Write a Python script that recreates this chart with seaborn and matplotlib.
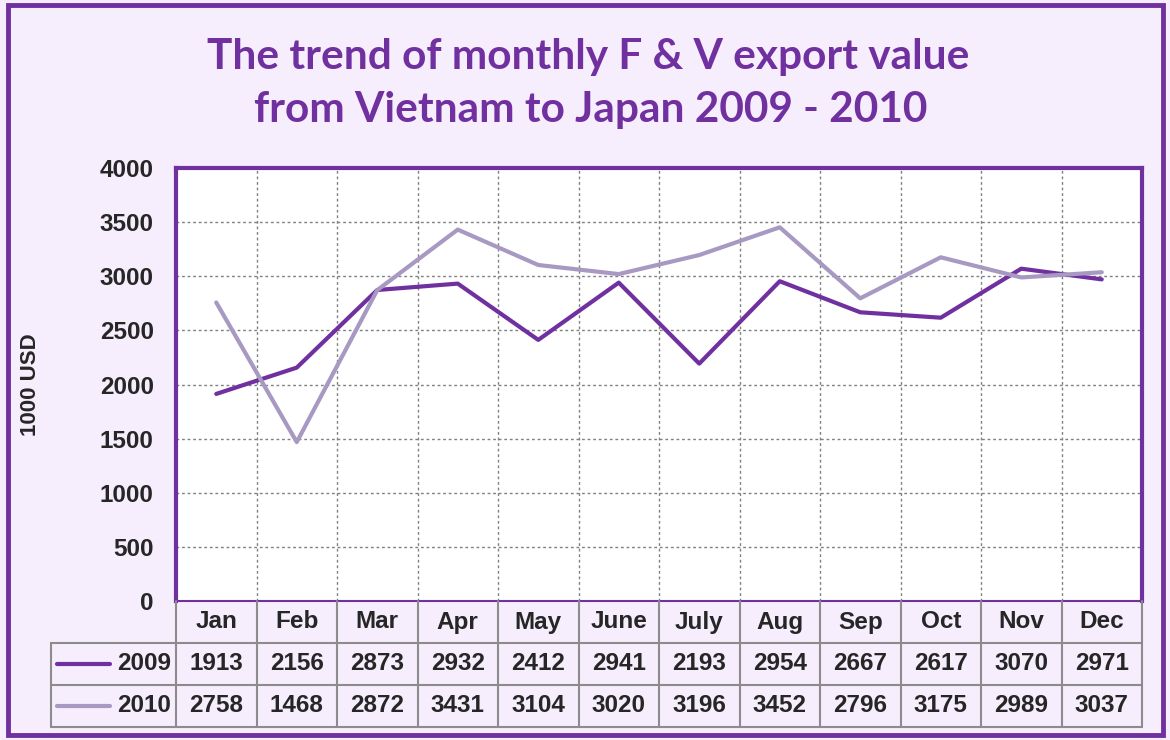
import numpy as np
import pandas as pd
import matplotlib
matplotlib.use("Agg")
import matplotlib.pyplot as plt
import seaborn as sns
from matplotlib.patches import Rectangle

# data
months = ["Jan", "Feb", "Mar", "Apr", "May", "June", "July", "Aug", "Sep", "Oct", "Nov", "Dec"]
v2009 = [1913, 2156, 2873, 2932, 2412, 2941, 2193, 2954, 2667, 2617, 3070, 2971]
v2010 = [2758, 1468, 2872, 3431, 3104, 3020, 3196, 3452, 2796, 3175, 2989, 3037]
years = ["2009", "2010"]
colors = {"2009": "#7030A0", "2010": "#A899C2"}
yticks = [0, 500, 1000, 1500, 2000, 2500, 3000, 3500, 4000]

df = pd.DataFrame({
    "pos": list(range(12)) * 2,
    "value": v2009 + v2010,
    "year": ["2009"] * 12 + ["2010"] * 12,
})

sns.set_style("white")
plt.rcParams['font.family'] = ['Liberation Sans', 'DejaVu Sans']

W, H = 1170, 740
bg = "#F6EEFC"
purple = "#7030A0"
fs = 17.5
fig = plt.figure(figsize=(W / 100, H / 100), dpi=100, facecolor=bg)

def px(x0, y0, x1, y1):
    return [x0 / W, 1 - y1 / H, (x1 - x0) / W, (y1 - y0) / H]

# outer frame
fig.patches.append(Rectangle((8 / W, 5 / H), (1163 - 8) / W, (735 - 5) / H,
                             transform=fig.transFigure, fill=False,
                             edgecolor=purple, linewidth=3.5))

# title
fig.text(0.5025, 1 - 57 / H, "The trend of monthly F & V export value",
         ha="center", va="center", fontsize=30.5, fontweight="bold",
         color=purple, family=["Lato", "DejaVu Sans"])
fig.text(0.505, 1 - 110 / H, "from Vietnam to Japan 2009 - 2010",
         ha="center", va="center", fontsize=30.5, fontweight="bold",
         color=purple, family=["Lato", "DejaVu Sans"])

# main plot
x_left, x_right, y_top, y_bot = 176, 1142, 168, 601
ax = fig.add_axes(px(x_left, y_top, x_right, y_bot))
ax.set_facecolor("white")
sns.lineplot(data=df, x="pos", y="value", hue="year", palette=colors,
             linewidth=3, legend=False, ax=ax)
ax.set_xlim(-0.5, 11.5)
ax.set_ylim(0, 4000)
ax.set_yticks(yticks)
ax.set_yticklabels([str(t) for t in yticks], fontsize=fs, fontweight="bold")
ax.tick_params(axis="y", length=0, pad=16)
ax.set_xticks([])
ax.set_xlabel("")
ax.set_ylabel("")
for t in yticks[1:-1]:
    ax.axhline(t, color="#808080", linewidth=1, linestyle=(0, (2, 2)), zorder=0)
for k in range(1, 12):
    ax.axvline(k - 0.5, color="#808080", linewidth=1, linestyle=(0, (2, 2)), zorder=0)
for s in ax.spines.values():
    s.set_color(purple)
    s.set_linewidth(3)
ax.spines["bottom"].set_linewidth(1.5)

fig.text(31 / W, 1 - 385 / H, "1000 USD", rotation=90, ha="center", va="center",
         fontsize=16, fontweight="bold")

# data table below
colw = (x_right - x_left) / 12
tab_left = 51
lw_units = (x_left - tab_left) / colw
tab = fig.add_axes(px(tab_left, y_bot, x_right, 727))
tab.set_xlim(-0.5 - lw_units, 11.5)
tab.set_ylim(0, 3)
tab.axis("off")
tab.patch.set_alpha(0)
grey = "#8C8C8C"
for k in range(13):
    tab.plot([k - 0.5, k - 0.5], [0, 3], color=grey, linewidth=1.5, clip_on=False)
tab.plot([-0.5 - lw_units] * 2, [0, 2], color=grey, linewidth=1.5, clip_on=False)
for yy in [0, 1, 2]:
    tab.plot([-0.5 - lw_units, 11.5], [yy, yy], color=grey, linewidth=1.5, clip_on=False)

for i, m in enumerate(months):
    tab.text(i, 2.5, m, ha="center", va="center", fontsize=fs, fontweight="bold")
    tab.text(i, 1.5, str(v2009[i]), ha="center", va="center", fontsize=fs, fontweight="bold")
    tab.text(i, 0.5, str(v2010[i]), ha="center", va="center", fontsize=fs, fontweight="bold")

for r, yr in zip([1.5, 0.5], years):
    x0 = -0.5 - lw_units + 6 / colw
    x1 = -0.5 - lw_units + 59 / colw
    tab.plot([x0, x1], [r, r], color=colors[yr], linewidth=3, solid_capstyle="round")
    tab.text(-0.5 - 5 / colw, r, yr, ha="right", va="center", fontsize=fs, fontweight="bold")

fig.savefig("out.png", dpi=100, facecolor=bg)
